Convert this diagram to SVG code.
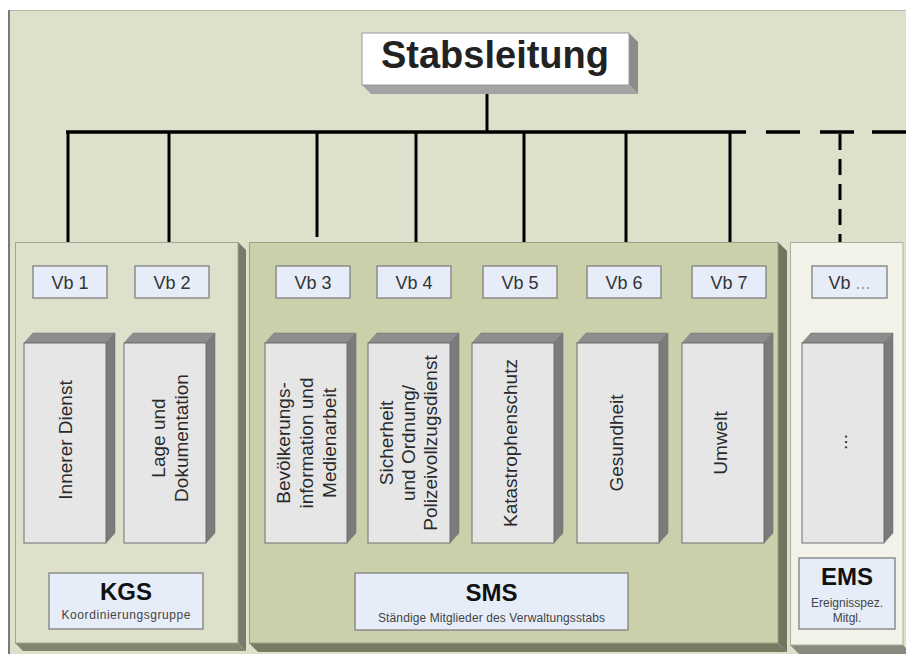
<svg xmlns="http://www.w3.org/2000/svg" xmlns:xlink="http://www.w3.org/1999/xlink" width="906" height="654" viewBox="0 0 906 654">
<style>
  text { font-family: "Liberation Sans", Arial, sans-serif; fill: #222; }
  .vb { fill: #e6edf8; stroke: #8c8c8c; stroke-width: 1.5; }
  .vbt { font-size: 18px; text-anchor: middle; fill: #333; }
  .rot { font-size: 19px; text-anchor: middle; fill: #2a2a2a; }
  .grp { font-size: 24px; font-weight: bold; text-anchor: middle; fill: #111; }
  .sub { font-size: 12px; text-anchor: middle; fill: #444; }
  .front { fill: #e6e6e6; stroke: #6e6e6e; stroke-width: 1; }
  .topf { fill: #8d8d8d; stroke: #6e6e6e; stroke-width: 0.5; }
  .sidef { fill: #7b7b7b; stroke: #6e6e6e; stroke-width: 0.5; }
  .solid { stroke: #000; stroke-width: 3; fill: none; }
  .dash { stroke: #000; stroke-width: 3.5; fill: none; }
</style>
<defs>
  <g id="pillar">
    <polygon class="topf" points="0,0 9,-10 91,-10 82,0"/>
    <polygon class="sidef" points="82,0 91,-10 91,190 82,200"/>
    <rect class="front" x="0" y="0" width="82" height="200"/>
  </g>
</defs>

<!-- background -->
<rect x="8" y="10" width="898" height="644" fill="#dde0cb"/>
<line x1="8" y1="10.5" x2="906" y2="10.5" stroke="#b8bba6" stroke-width="1"/>
<rect x="8" y="10" width="2" height="644" fill="#7a7a7a"/>

<!-- connectors -->
<g id="connectors">
  <line class="solid" x1="487" y1="85" x2="487" y2="132"/>
  <line class="dash" x1="66" y1="132" x2="746" y2="132"/>
  <line class="dash" x1="746" y1="132" x2="906" y2="132" stroke-dasharray="0 20 34 20 34 18 40"/>
  <line class="solid" x1="68" y1="132" x2="68" y2="242"/>
  <line class="solid" x1="169" y1="132" x2="169" y2="242"/>
  <line class="solid" x1="317" y1="132" x2="317" y2="237"/>
  <line class="solid" x1="416" y1="132" x2="416" y2="242"/>
  <line class="solid" x1="524" y1="132" x2="524" y2="242"/>
  <line class="solid" x1="626" y1="132" x2="626" y2="242"/>
  <line class="solid" x1="730" y1="132" x2="730" y2="242"/>
  <line class="solid" x1="840" y1="134" x2="840" y2="242" stroke-dasharray="16 9"/>
</g>

<!-- Stabsleitung -->
<g id="stabsleitung">
  <polygon points="629,33 638,42 638,94 629,85" fill="#8c8c8c"/>
  <polygon points="362,85 629,85 638,94 371,94" fill="#a3a3a3"/>
  <rect x="362" y="33" width="267" height="52" fill="#ffffff" stroke="#9a9a9a" stroke-width="1"/>
  <text x="495" y="68" font-size="38" font-weight="bold" text-anchor="middle" fill="#111">Stabsleitung</text>
</g>

<!-- KGS panel -->
<g id="kgs">
  <polygon points="238,242 246,250 246,651 238,643" fill="#767b6c"/>
  <polygon points="15,643 238,643 246,651 23,651" fill="#80856f"/>
  <rect x="15.5" y="242.5" width="222.5" height="400.5" fill="#dde1cb" stroke="#a3a792" stroke-width="1"/>
  <rect class="vb" x="49" y="573" width="154" height="56"/>
  <text class="grp" x="126" y="600">KGS</text>
  <text class="sub" x="126" y="619" textLength="129" lengthAdjust="spacing">Koordinierungsgruppe</text>
</g>

<!-- SMS panel -->
<g id="sms">
  <polygon points="778,242 787,251 787,652 778,643" fill="#6f7660"/>
  <polygon points="249,643 778,643 787,652 258,652" fill="#767c64"/>
  <rect x="249.5" y="242.5" width="528.5" height="400.5" fill="#c9d0aa" stroke="#9ba182" stroke-width="1"/>
  <rect class="vb" x="355" y="573" width="273" height="57"/>
  <text class="grp" x="491.5" y="601">SMS</text>
  <text class="sub" x="491.5" y="622" textLength="227" lengthAdjust="spacing">Ständige Mitglieder des Verwaltungsstabs</text>
</g>

<!-- EMS panel -->
<g id="ems">
  <polygon points="790,645 903,645 912,654 799,654" fill="#8a8a80"/>
  <rect x="790.5" y="242.5" width="112.5" height="402.5" fill="#f2f2e8" stroke="#aeae9e" stroke-width="1"/>
  <rect class="vb" x="799" y="558" width="96" height="71"/>
  <text class="grp" x="847" y="585">EMS</text>
  <text class="sub" x="847" y="607" font-size="12.5">Ereignisspez.</text>
  <text class="sub" x="847" y="622" font-size="12.5">Mitgl.</text>
</g>

<!-- Vb 1 -->
<g id="vb1">
  <rect class="vb" x="33" y="266" width="74" height="32"/>
  <text class="vbt" x="70" y="288.5">Vb 1</text>
  <use xlink:href="#pillar" href="#pillar" x="24" y="343"/>
  <text class="rot" transform="translate(65,440) rotate(-90)" y="7">Innerer Dienst</text>
</g>
<!-- Vb 2 -->
<g id="vb2">
  <rect class="vb" x="135" y="266" width="74" height="32"/>
  <text class="vbt" x="172" y="288.5">Vb 2</text>
  <use xlink:href="#pillar" href="#pillar" x="124" y="343"/>
  <text class="rot" transform="translate(165,438) rotate(-90)"><tspan x="0" y="0">Lage und</tspan><tspan x="0" y="22.5">Dokumentation</tspan></text>
</g>
<!-- Vb 3 -->
<g id="vb3">
  <rect class="vb" x="276" y="266" width="74" height="32"/>
  <text class="vbt" x="313" y="288.5">Vb 3</text>
  <use xlink:href="#pillar" href="#pillar" x="265" y="343"/>
  <text class="rot" transform="translate(306,443) rotate(-90)"><tspan x="0" y="-16">Bevölkerungs-</tspan><tspan x="0" y="7">information und</tspan><tspan x="0" y="30">Medienarbeit</tspan></text>
</g>
<!-- Vb 4 -->
<g id="vb4">
  <rect class="vb" x="377" y="266" width="74" height="32"/>
  <text class="vbt" x="414" y="288.5">Vb 4</text>
  <use xlink:href="#pillar" href="#pillar" x="368" y="343"/>
  <text class="rot" transform="translate(409,443) rotate(-90)"><tspan x="0" y="-16">Sicherheit</tspan><tspan x="0" y="6">und Ordnung/</tspan><tspan x="0" y="28">Polizeivollzugsdienst</tspan></text>
</g>
<!-- Vb 5 -->
<g id="vb5">
  <rect class="vb" x="483" y="266" width="74" height="32"/>
  <text class="vbt" x="520" y="288.5">Vb 5</text>
  <use xlink:href="#pillar" href="#pillar" x="472" y="343"/>
  <text class="rot" transform="translate(510,443) rotate(-90)" y="7">Katastrophenschutz</text>
</g>
<!-- Vb 6 -->
<g id="vb6">
  <rect class="vb" x="587" y="266" width="74" height="32"/>
  <text class="vbt" x="624" y="288.5">Vb 6</text>
  <use xlink:href="#pillar" href="#pillar" x="577" y="343"/>
  <text class="rot" transform="translate(616,443) rotate(-90)" y="7">Gesundheit</text>
</g>
<!-- Vb 7 -->
<g id="vb7">
  <rect class="vb" x="692" y="266" width="74" height="32"/>
  <text class="vbt" x="729" y="288.5">Vb 7</text>
  <use xlink:href="#pillar" href="#pillar" x="682" y="343"/>
  <text class="rot" transform="translate(720,443) rotate(-90)" y="7">Umwelt</text>
</g>
<!-- Vb ... -->
<g id="vbx">
  <rect class="vb" x="812" y="266" width="75" height="32"/>
  <text class="vbt" x="849.5" y="288.5">Vb <tspan fill="#999">...</tspan></text>
  <use xlink:href="#pillar" href="#pillar" x="802" y="343"/>
  <text class="rot" transform="translate(843,442) rotate(-90)" y="4" font-size="16">...</text>
</g>
</svg>
